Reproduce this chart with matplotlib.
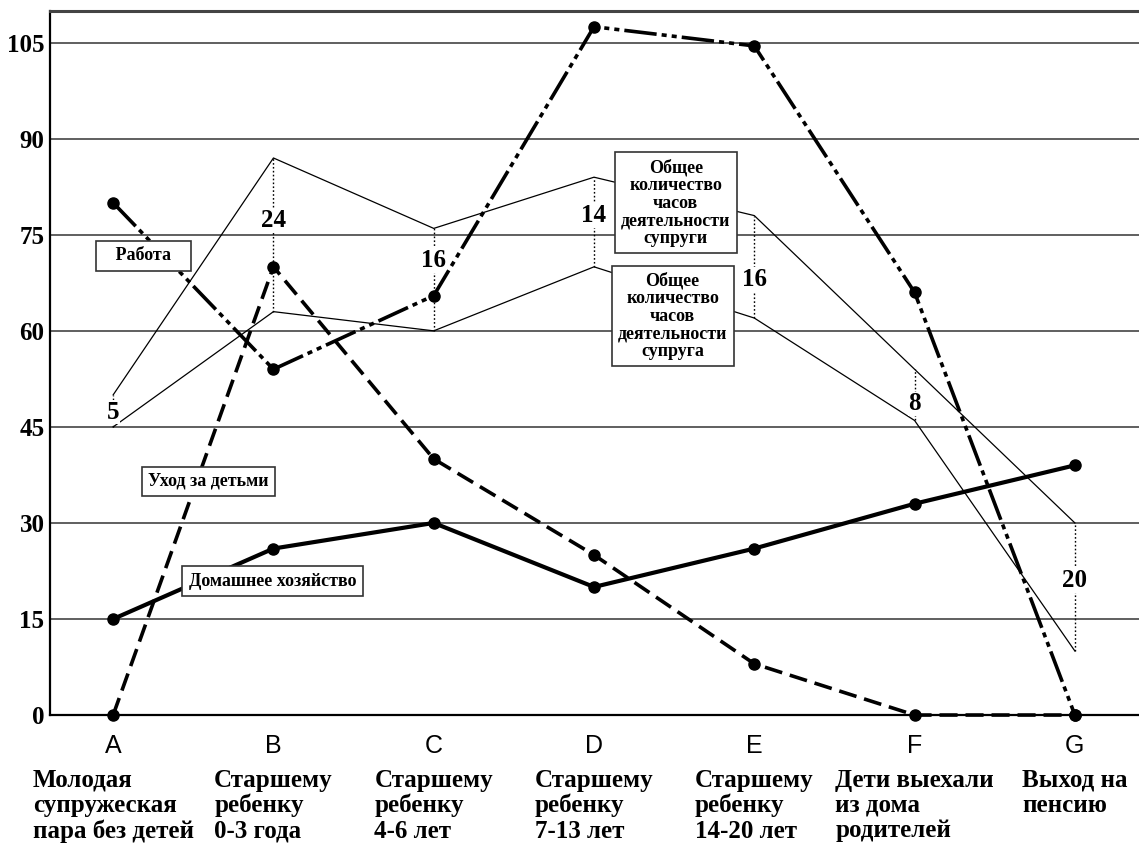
import matplotlib
matplotlib.use("Agg")
import matplotlib.pyplot as plt
import matplotlib.transforms as mtransforms

# stages of the family life cycle
STAGES = ["A", "B", "C", "D", "E", "F", "G"]
STAGE_NAMES = [
    "Молодая\nсупружеская\nпара без детей",
    "Старшему\nребенку\n0-3 года",
    "Старшему\nребенку\n4-6 лет",
    "Старшему\nребенку\n7-13 лет",
    "Старшему\nребенку\n14-20 лет",
    "Дети выехали\nиз дома\nродителей",
    "Выход на\nпенсию",
]

# hours per week
WORK = [80, 54, 65.5, 107.5, 104.5, 66, 0]
CHILDCARE = [0, 70, 40, 25, 8, 0, 0]
HOUSEHOLD = [15, 26, 30, 20, 26, 33, 39]
WIFE_TOTAL = [50, 87, 76, 84, 78, 54, 30]
HUSBAND_TOTAL = [45, 63, 60, 70, 62, 46, 10]

# where the difference numbers sit (y, data units)
DIFF_Y = [47.3, 77.3, 71, 78, 68, 48.6, 21]

Y_TICKS = [0, 15, 30, 45, 60, 75, 90, 105]

SERIF = "Liberation Serif"
SANS = "Liberation Sans"

fig = plt.figure(figsize=(11.39, 8.43), dpi=100)
ax = fig.add_axes([0.0439, 0.1518, 0.9561, 0.8355])

x = list(range(len(STAGES)))

for y in Y_TICKS[1:]:
    ax.axhline(y, color="#444444", linewidth=1.2, zorder=1)

# totals of husband and wife, with dotted gaps between them
ax.plot(x, WIFE_TOTAL, color="black", linewidth=0.9, zorder=3)
ax.plot(x, HUSBAND_TOTAL, color="black", linewidth=0.9, zorder=3)
ax.vlines(x, HUSBAND_TOTAL, WIFE_TOTAL, colors="black", linestyles=(0, (1.2, 1.6)),
          linewidth=1.0, zorder=3)

for i in x:
    diff = WIFE_TOTAL[i] - HUSBAND_TOTAL[i]
    ax.text(i, DIFF_Y[i], f"{diff:g}", ha="center", va="center",
            family=SERIF, weight="bold", fontsize=18, zorder=4,
            bbox=dict(facecolor="white", edgecolor="none", pad=0.5))

ax.plot(x, WORK, color="black", linewidth=2.6, linestyle=(0, (9, 1.4, 1.4, 1.4, 1.4, 1.4)),
        marker="o", markersize=8, zorder=5, clip_on=False)
ax.plot(x, CHILDCARE, color="black", linewidth=2.6, linestyle=(0, (5, 2.2)),
        marker="o", markersize=8, zorder=5, clip_on=False)
ax.plot(x, HOUSEHOLD, color="black", linewidth=3.0, linestyle="-",
        marker="o", markersize=8, zorder=5, clip_on=False)

box = dict(boxstyle="square,pad=0.35", facecolor="white", edgecolor="#333333", linewidth=1.2)
label_kw = dict(ha="center", va="center", family=SERIF, weight="bold", zorder=6, bbox=box)
ax.text(0.19, 71.7, "   Работа   ", fontsize=13, **label_kw)
ax.text(0.594, 36.5, "Уход за детьми", fontsize=13, **label_kw)
ax.text(0.994, 20.9, "Домашнее хозяйство", fontsize=13, **label_kw)
ax.text(3.51, 80, "Общее\nколичество\nчасов\nдеятельности\nсупруги",
        fontsize=13, linespacing=1.05, multialignment="center", **label_kw)
ax.text(3.49, 62.3, "Общее\nколичество\nчасов\nдеятельности\nсупруга",
        fontsize=13, linespacing=1.05, multialignment="center", **label_kw)

ax.set_xlim(-0.394, 6.4)
ax.set_ylim(0, 110)
ax.set_yticks(Y_TICKS)
ax.set_yticklabels([str(v) for v in Y_TICKS], family=SERIF, weight="bold", fontsize=18)
ax.set_xticks(x)
ax.set_xticklabels(STAGES, family=SANS, fontsize=18)
ax.tick_params(axis="both", length=0)
ax.tick_params(axis="x", pad=14)
ax.tick_params(axis="y", pad=4)

ax.spines["right"].set_visible(False)
ax.spines["top"].set_color("#444444")
ax.spines["top"].set_linewidth(2.2)
ax.spines["left"].set_linewidth(1.6)
ax.spines["bottom"].set_linewidth(1.6)

trans = mtransforms.blended_transform_factory(ax.transData, ax.transAxes)
for i, name in enumerate(STAGE_NAMES):
    ax.text(i, -0.076, name, transform=trans, ha="center", va="top",
            multialignment="left", family=SERIF, weight="bold", fontsize=18,
            linespacing=1.13)

fig.savefig("out.png", dpi=100)
